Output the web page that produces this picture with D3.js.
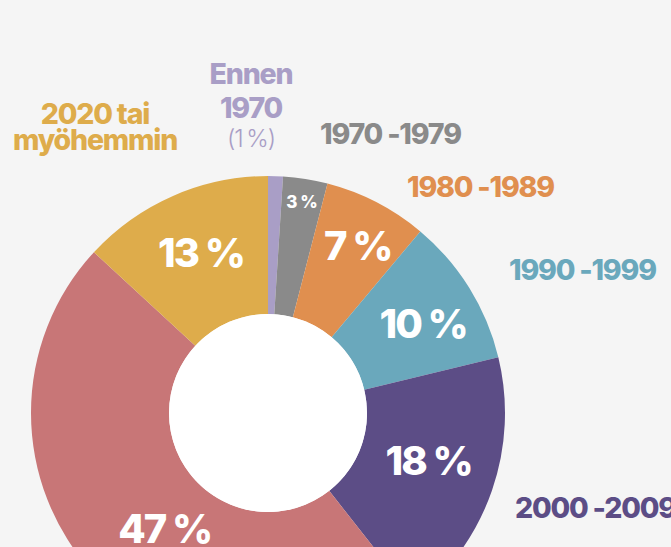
<!DOCTYPE html>
<html>
<head>
<meta charset="utf-8">
<script src="https://cdn.jsdelivr.net/npm/d3@7"></script>
<style>
  html, body { margin: 0; padding: 0; background: #f5f5f5; }
  svg { display: block; font-family: Inter, "Noto Sans", sans-serif; }
</style>
</head>
<body>
<svg id="chart" width="671" height="547"></svg>
<script>
// data
const categories = ["Ennen 1970", "1970 -1979", "1980 -1989", "1990 -1999", "2000 -2009", "2010 -2019", "2020 tai myöhemmin"];
const values = [1, 3, 7, 10, 18, 47, 13];
const colors = ["#a99ec6", "#8a8a8a", "#e08f4f", "#6aa8bc", "#5c4d86", "#c87677", "#deac4b"];

const width = 671;
const height = 547;
const cx = 268, cy = 413;
const outerR = 237, innerR = 99;

const svg = d3.select("#chart");

const pie = d3.pie()
  .value(d => d)
  .sort(null);

const arcs = pie(values);

const arc = d3.arc()
  .innerRadius(innerR)
  .outerRadius(outerR);

const g = svg.append("g")
  .attr("transform", `translate(${cx},${cy})`);

g.selectAll("path.slice")
  .data(arcs)
  .enter()
  .append("path")
  .attr("class", "slice")
  .attr("d", arc)
  .attr("fill", (d, i) => colors[i]);

// white hole in the middle
g.append("circle")
  .attr("r", innerR)
  .attr("fill", "#fff");

// percentage labels inside the ring
const labelArc = d3.arc().innerRadius(172).outerRadius(172);
const smallLabelArc = d3.arc().innerRadius(214).outerRadius(214);
const nudge = { 2: [11, -15], 3: [9, 1], 4: [-2, -9], 5: [23, -1], 6: [2, -3] }; // hand tweaks so labels sit like the original

g.selectAll("text.pct")
  .data(arcs)
  .enter()
  .filter(d => d.data >= 3)
  .append("text")
  .attr("class", "pct")
  .attr("text-anchor", "middle")
  .attr("dy", "0.36em")
  .attr("fill", "#fff")
  .attr("font-weight", 800)
  .attr("font-size", d => d.data < 5 ? 17 : 40)
  .attr("letter-spacing", d => d.data < 5 ? -0.5 : -2)
  .attr("transform", d => {
    const c = d.data < 5 ? smallLabelArc.centroid(d) : labelArc.centroid(d);
    const n = nudge[d.index] || [0, 0];
    return `translate(${c[0] + n[0]},${c[1] + n[1]})`;
  })
  .text(d => `${d.data} %`);

// category labels round the ring
const catLabels = [
  { i: 0, x: 251, y: 84, anchor: "middle", lines: ["Ennen", "1970"], gap: 34 },
  { i: 1, x: 320, y: 144, anchor: "start", lines: [categories[1]] },
  { i: 2, x: 407, y: 197, anchor: "start", lines: [categories[2]] },
  { i: 3, x: 509, y: 280, anchor: "start", lines: [categories[3]] },
  { i: 4, x: 515, y: 518, anchor: "start", lines: [categories[4]] },
  { i: 6, x: 95, y: 124, anchor: "middle", lines: ["2020 tai", "myöhemmin"], gap: 26 }
];

catLabels.forEach(l => {
  const t = svg.append("text")
    .attr("x", l.x)
    .attr("y", l.y)
    .attr("text-anchor", l.anchor)
    .attr("fill", colors[l.i])
    .attr("font-weight", 800)
    .attr("font-size", 28.5)
    .attr("letter-spacing", -1.2);
  l.lines.forEach((line, k) => {
    t.append("tspan")
      .attr("x", l.x)
      .attr("dy", k === 0 ? 0 : l.gap)
      .text(line);
  });
});

// the small slice shows its share under its name
svg.append("text")
  .attr("x", 251)
  .attr("y", 147)
  .attr("text-anchor", "middle")
  .attr("fill", colors[0])
  .attr("font-weight", 300)
  .attr("font-size", 24)
  .attr("letter-spacing", -1)
  .text(`(${values[0]}\u2009%)`);
</script>
</body>
</html>
